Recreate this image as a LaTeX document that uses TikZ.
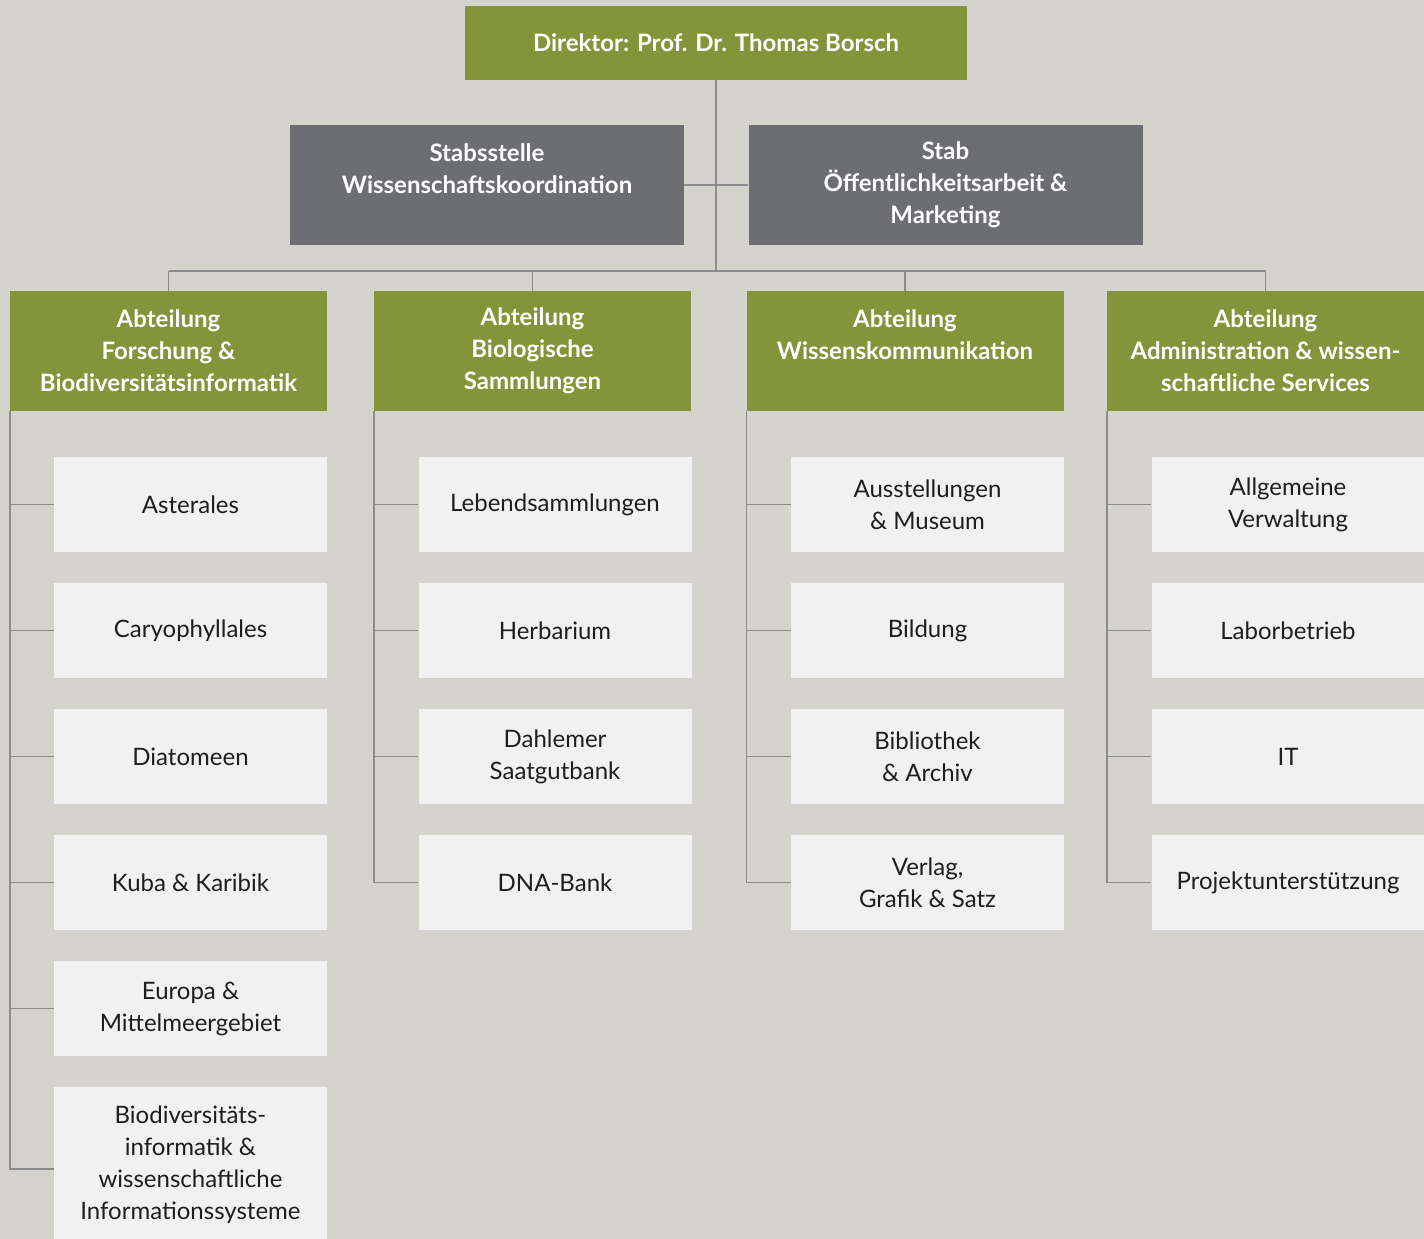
\documentclass[tikz,border=0pt]{standalone}
\usepackage{fontspec}
\setmainfont{Lato}
\usepackage{tikz}
\definecolor{bggray}{HTML}{D4D3CC}
\definecolor{olive}{HTML}{84943A}
\definecolor{slate}{HTML}{6D6E72}
\definecolor{paper}{HTML}{F1F1F1}
\definecolor{wire}{HTML}{8C8C8C}
\definecolor{ink}{HTML}{1E1E1E}
\tikzset{
	boxfont/.style={font=\fontsize{24}{32}\selectfont},
	director/.style={boxfont, font=\fontsize{24}{32}\selectfont\bfseries, fill=olive, text=white, minimum width=502, minimum height=74, inner sep=0pt, align=center},
	stabbox/.style={boxfont, font=\fontsize{24}{32}\selectfont\bfseries, fill=slate, text=white, minimum width=394, minimum height=120, inner sep=0pt, align=center},
	deptbox/.style={boxfont, font=\fontsize{24}{32}\selectfont\bfseries, fill=olive, text=white, minimum width=317, minimum height=120, inner sep=0pt, align=center},
	unitbox/.style={boxfont, fill=paper, text=ink, minimum width=273, minimum height=95, inner sep=0pt, align=center},
	wireline/.style={wire, line width=1.5pt}
}

\begin{document}
\begin{tikzpicture}[x=1pt, y=-1pt]
	\fill[bggray] (0,0) rectangle (1424,1239);
	\useasboundingbox (0,0) rectangle (1424,1239);

	% Leitung
	\node[director] (dir) at (716,43) {\raisebox{-2pt}{Direktor: Prof. Dr. Thomas Borsch}};
	\node[stabbox] (stabwk) at (487,185) {Stabsstelle\\Wissenschaftskoordination\\\mbox{}};
	\node[stabbox] (staboe) at (945.5,185) {Stab\\Öffentlichkeitsarbeit \&\\Marketing};
	\coordinate (hub) at (716,271);

	% Abteilungen
	\node[deptbox] (dept1) at (168.5,351) {Abteilung\\Forschung \&\\Biodiversitätsinformatik};
	\node[deptbox] (dept2) at (532.5,351) {Abteilung\\Biologische\\Sammlungen};
	\node[deptbox] (dept3) at (905,351) {Abteilung\\Wissenskommunikation\\\mbox{}};
	\node[deptbox] (dept4) at (1265.5,351) {Abteilung\\Administration \& wissen-\\schaftliche Services};

	% Abteilung 1
	\node[unitbox] (u11) at (190.5,504.5) {Asterales};
	\node[unitbox] (u12) at (190.5,630.5) {Caryophyllales};
	\node[unitbox] (u13) at (190.5,756.5) {Diatomeen};
	\node[unitbox] (u14) at (190.5,882.5) {Kuba \& Karibik};
	\node[unitbox] (u15) at (190.5,1008.5) {Europa \&\\Mittelmeergebiet};
	\node[unitbox, minimum height=156, anchor=north] (u16) at (190.5,1087) {Biodiversitäts-\\informatik \&\\wissenschaftliche\\Informationssysteme};
	% Abteilung 2
	\node[unitbox] (u21) at (555,504.5) {Lebendsammlungen};
	\node[unitbox] (u22) at (555,630.5) {Herbarium};
	\node[unitbox] (u23) at (555,756.5) {Dahlemer\\Saatgutbank};
	\node[unitbox] (u24) at (555,882.5) {DNA-Bank};
	% Abteilung 3
	\node[unitbox] (u31) at (927.5,504.5) {Ausstellungen\\\& Museum};
	\node[unitbox] (u32) at (927.5,630.5) {Bildung};
	\node[unitbox] (u33) at (927.5,756.5) {Bibliothek\\\& Archiv};
	\node[unitbox] (u34) at (927.5,882.5) {Verlag,\\Grafik \& Satz};
	% Abteilung 4
	\node[unitbox] (u41) at (1288,504.5) {Allgemeine\\Verwaltung};
	\node[unitbox] (u42) at (1288,630.5) {Laborbetrieb};
	\node[unitbox] (u43) at (1288,756.5) {IT};
	\node[unitbox] (u44) at (1288,882.5) {Projektunterstützung};

	% Leitung
	\draw[wireline] (dir) -- (hub);
	\draw[wireline] (stabwk) -- (staboe);
	\draw[wireline] (dept1.north |- hub) -- (dept4.north |- hub);
	\draw[wireline] (dept1) -- (dept1 |- hub);
	\draw[wireline] (dept2) -- (dept2 |- hub);
	\draw[wireline] (dept3) -- (dept3 |- hub);
	\draw[wireline] (dept4) -- (dept4 |- hub);
	% Abteilung 1
	\draw[wireline] (dept1.south west) -- (dept1.south west |- 0,1169) -- (u16.west |- 0,1169);
	\draw[wireline] (dept1.south west |- u11.west) -- (u11.west);
	\draw[wireline] (dept1.south west |- u12.west) -- (u12.west);
	\draw[wireline] (dept1.south west |- u13.west) -- (u13.west);
	\draw[wireline] (dept1.south west |- u14.west) -- (u14.west);
	\draw[wireline] (dept1.south west |- u15.west) -- (u15.west);
	% Abteilung 2
	\draw[wireline] (dept2.south west) -- (dept2.south west |- u24.west) -- (u24.west);
	\draw[wireline] (dept2.south west |- u21.west) -- (u21.west);
	\draw[wireline] (dept2.south west |- u22.west) -- (u22.west);
	\draw[wireline] (dept2.south west |- u23.west) -- (u23.west);
	% Abteilung 3
	\draw[wireline] (dept3.south west) -- (dept3.south west |- u34.west) -- (u34.west);
	\draw[wireline] (dept3.south west |- u31.west) -- (u31.west);
	\draw[wireline] (dept3.south west |- u32.west) -- (u32.west);
	\draw[wireline] (dept3.south west |- u33.west) -- (u33.west);
	% Abteilung 4
	\draw[wireline] (dept4.south west) -- (dept4.south west |- u44.west) -- (u44.west);
	\draw[wireline] (dept4.south west |- u41.west) -- (u41.west);
	\draw[wireline] (dept4.south west |- u42.west) -- (u42.west);
	\draw[wireline] (dept4.south west |- u43.west) -- (u43.west);
\end{tikzpicture}
\end{document}
